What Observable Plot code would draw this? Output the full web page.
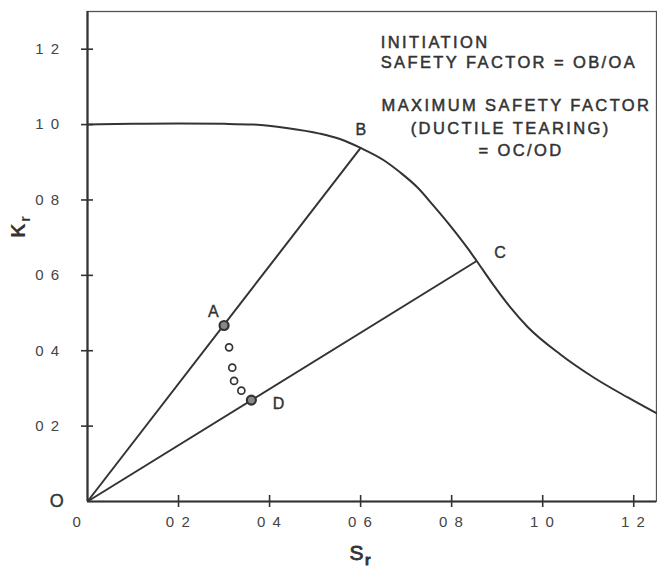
<!DOCTYPE html>
<html><head><meta charset="utf-8">
<script src="https://cdn.jsdelivr.net/npm/d3@7"></script>
<script src="https://cdn.jsdelivr.net/npm/@observablehq/plot@0.6"></script>
<style>
body{margin:0;background:#fff}
#chart svg text{letter-spacing:1.5px}
#chart svg text.note{letter-spacing:2.4px}
</style>
</head><body><div id="chart"></div>
<script>
// Failure assessment curve
const curveSr = [0, 0.10, 0.20, 0.30, 0.364, 0.437, 0.510, 0.556, 0.600, 0.650, 0.688, 0.725, 0.760, 0.798, 0.835, 0.855, 0.892, 0.929, 0.967, 1.039, 1.112, 1.187, 1.250];
const curveKr = [1.000, 1.002, 1.003, 1.002, 1.000, 0.991, 0.976, 0.961, 0.938, 0.906, 0.872, 0.833, 0.785, 0.730, 0.672, 0.638, 0.574, 0.515, 0.463, 0.390, 0.329, 0.276, 0.234];

// Named points
const pointNames = ["O", "A", "B", "C", "D"];
const pointSr = [0, 0.300, 0.600, 0.855, 0.360];
const pointKr = [0, 0.467, 0.938, 0.638, 0.269];

// Small open circles between A and D
const openSr = [0.311, 0.318, 0.322, 0.338];
const openKr = [0.409, 0.355, 0.320, 0.294];

// Ticks
const xTicks = [0.2, 0.4, 0.6, 0.8, 1.0, 1.2];
const xTickLabels = ["0 2", "0 4", "0 6", "0 8", "1 0", "1 2"];
const yTicks = [0.2, 0.4, 0.6, 0.8, 1.0, 1.2];
const yTickLabels = ["0 2", "0 4", "0 6", "0 8", "1 0", "1 2"];

// Annotation text lines (anchored in data units)
const noteLines = ["INITIATION", "SAFETY FACTOR = OB/OA", "MAXIMUM SAFETY FACTOR", "(DUCTILE TEARING)", "= OC/OD"];
const noteSr = [0.644, 0.644, 0.646, 0.710, 0.859];
const noteKr = [1.218, 1.165, 1.051, 0.990, 0.931];

// ---- build tables ----
const curve = curveSr.map((s, i) => ({Sr: s, Kr: curveKr[i]}));
const pts = pointNames.map((n, i) => ({name: n, Sr: pointSr[i], Kr: pointKr[i]}));
const P = Object.fromEntries(pts.map(p => [p.name, p]));
const rays = [P.B, P.C].map(p => ({x1: P.O.Sr, y1: P.O.Kr, x2: p.Sr, y2: p.Kr}));
const markers = [P.A, P.D];
const opens = openSr.map((s, i) => ({Sr: s, Kr: openKr[i]}));
const notes = noteLines.map((t, i) => ({t, Sr: noteSr[i], Kr: noteKr[i]}));

// label offsets (pixels) relative to their points
const labelOffset = {O: [-30, 0], A: [-10, -14], B: [1, -18], C: [24, -8], D: [28, 4]};

const ink = "#333";
const font = "'Liberation Sans', Arial, Helvetica, sans-serif";

const labelMarks = pts.map(p => Plot.text([p], {
  x: "Sr", y: "Kr", text: "name",
  dx: labelOffset[p.name][0], dy: labelOffset[p.name][1],
  fontSize: p.name === "O" ? 18 : 16, fill: ink, stroke: ink, strokeWidth: 0.4
}));

const chart = Plot.plot({
  width: 657, height: 568,
  marginLeft: 87, marginRight: 1, marginTop: 11, marginBottom: 67,
  x: {domain: [0, 1.25]},
  y: {domain: [0, 1.3]},
  style: {fontFamily: font, fontSize: "15px", color: ink, background: "#fff"},
  marks: [
    Plot.frame({stroke: "#555", strokeWidth: 1.3}),
    Plot.ruleX([0], {stroke: ink, strokeWidth: 2.2}),
    Plot.ruleY([0], {stroke: ink, strokeWidth: 2.2}),
    // crossing tick marks
    Plot.axisX(xTicks, {tickSize: 12, dy: -6, tickFormat: () => "", label: null, stroke: ink, strokeWidth: 1.6}),
    Plot.axisY(yTicks, {tickSize: 12, dx: 6, tickFormat: () => "", label: null, stroke: ink, strokeWidth: 1.6}),
    // tick labels
    Plot.axisX(xTicks, {tickSize: 0, tickPadding: 15, tickFormat: d => xTickLabels[xTicks.indexOf(d)], label: null, fontSize: 15, fill: "#444", stroke: "#444", strokeWidth: 0.3}),
    Plot.axisX([0], {tickSize: 0, tickPadding: 15, dx: -10, tickFormat: () => "0", label: null, fontSize: 15, fill: "#444", stroke: "#444", strokeWidth: 0.3}),
    Plot.axisY(yTicks, {tickSize: 0, tickPadding: 27, tickFormat: d => yTickLabels[yTicks.indexOf(d)], label: null, fontSize: 15, fill: "#444", stroke: "#444", strokeWidth: 0.3}),
    // axis titles
    Plot.text(["K"], {frameAnchor: "left", dx: -69, y: [0.70], text: d => d, rotate: -90, fontSize: 20, fontWeight: "bold", fill: ink}),
    Plot.text(["S"], {frameAnchor: "bottom", x: [0.60], dy: 58, text: d => d, fontSize: 21, fill: ink, stroke: ink, strokeWidth: 0.8}),
    // curve and rays
    Plot.line(curve, {x: "Sr", y: "Kr", curve: "monotone-x", stroke: ink, strokeWidth: 2}),
    Plot.link(rays, {x1: "x1", y1: "y1", x2: "x2", y2: "y2", stroke: ink, strokeWidth: 2}),
    Plot.dot(opens, {x: "Sr", y: "Kr", r: 3.5, stroke: ink, strokeWidth: 1.7, fill: "#fff"}),
    Plot.dot(markers, {x: "Sr", y: "Kr", r: 4.5, stroke: ink, strokeWidth: 2.2, fill: "#888"}),
    ...labelMarks,
    Plot.text(notes, {x: "Sr", y: "Kr", text: "t", textAnchor: "start", fontSize: 16.5, fill: ink, stroke: ink, strokeWidth: 0.5})
  ]
});

// subscript r on axis titles, letter-spacing on notes
const svg = d3.select(chart);
svg.selectAll("text").each(function () {
  const t = this.textContent;
  if (t === "K" || t === "S") {
    d3.select(this).append("tspan").attr("font-size", 14).attr("font-weight", "bold").attr("dy", 5).text("r");
  }
  if (noteLines.includes(t)) this.classList.add("note");
});

document.getElementById("chart").appendChild(chart);
</script>
</body></html>
